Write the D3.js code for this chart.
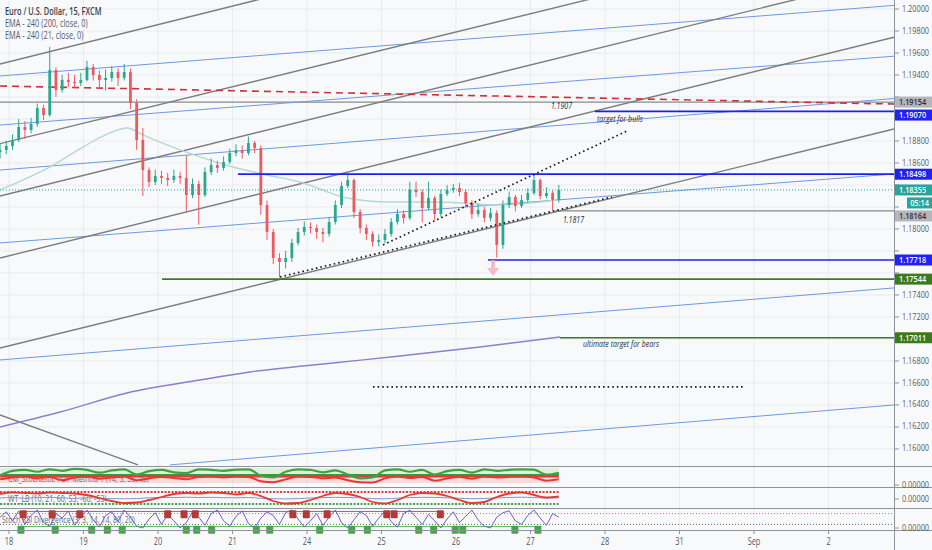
<!DOCTYPE html>
<html><head><meta charset="utf-8">
<script src="https://cdn.jsdelivr.net/npm/d3@7"></script>
<style>html,body{margin:0;padding:0;background:#f8f9fb;}svg{display:block;font-family:"Open Sans","Noto Sans",sans-serif;}</style>
</head><body><svg id="c" width="932" height="550"></svg>
<script>
// ---------------- DATA ----------------
// trading-day index 0..11 for the x-axis labels (weekends skipped)
const dayLabels = ["18","19","20","21","24","25","26","27","28","31","Sep","2"];
const priceTicks = [1.200,1.198,1.196,1.194,1.192,1.190,1.188,1.186,1.184,1.182,1.180,1.178,1.176,1.174,1.172,1.170,1.168,1.166,1.164,1.162,1.160];
// 2-hour candles, first bar at day index -0.12
const barStart = -0.12, barStep = 1/12;
const opens = [1.18700,1.18718,1.18755,1.18809,1.18927,1.18900,1.18955,1.19100,1.19036,1.19445,
1.19264,1.19355,1.19336,1.19327,1.19355,1.19473,1.19400,1.19355,1.19373,1.19427,
1.19373,1.19427,1.19145,1.18809,1.18536,1.18427,1.18482,1.18464,1.18445,1.18482,
1.18464,1.18309,1.18409,1.18309,1.18518,1.18582,1.18555,1.18609,1.18691,1.18718,
1.18691,1.18782,1.18736,1.18218,1.17973,1.17736,1.17700,1.17736,1.17873,1.17973,
1.18018,1.18009,1.17973,1.17955,1.18064,1.18218,1.18391,1.18445,1.18155,1.18009,
1.17955,1.17882,1.17900,1.17955,1.18064,1.18136,1.18100,1.18355,1.18336,1.18191,
1.18282,1.18136,1.18318,1.18355,1.18373,1.18336,1.18236,1.18136,1.18173,1.18100,
1.18145,1.17855,1.18218,1.18291,1.18209,1.18264,1.18327,1.18445,1.18300,1.18327,
1.18264];
const closes = [1.18718,1.18755,1.18809,1.18927,1.18900,1.18955,1.19100,1.19036,1.19445,1.19264,
1.19355,1.19336,1.19327,1.19355,1.19473,1.19400,1.19355,1.19373,1.19427,1.19373,
1.19427,1.19145,1.18809,1.18536,1.18427,1.18482,1.18464,1.18445,1.18482,1.18464,
1.18309,1.18409,1.18309,1.18518,1.18582,1.18555,1.18609,1.18691,1.18718,1.18691,
1.18782,1.18736,1.18218,1.17973,1.17736,1.17700,1.17736,1.17873,1.17973,1.18018,
1.18009,1.17973,1.17955,1.18064,1.18218,1.18391,1.18445,1.18155,1.18009,1.17955,
1.17882,1.17900,1.17955,1.18064,1.18136,1.18100,1.18355,1.18336,1.18191,1.18282,
1.18136,1.18318,1.18355,1.18373,1.18336,1.18236,1.18136,1.18173,1.18100,1.18145,
1.17855,1.18218,1.18291,1.18209,1.18264,1.18327,1.18445,1.18300,1.18327,1.18264,
1.18355];
const highs = [1.18780,1.18800,1.18860,1.19000,1.18980,1.19010,1.19140,1.19130,1.19655,1.19470,
1.19400,1.19420,1.19400,1.19420,1.19530,1.19500,1.19440,1.19450,1.19480,1.19460,
1.19500,1.19460,1.19180,1.18920,1.18560,1.18540,1.18530,1.18510,1.18540,1.18520,
1.18670,1.18460,1.18440,1.18560,1.18640,1.18620,1.18660,1.18730,1.18770,1.18760,
1.18840,1.18800,1.18760,1.18260,1.18000,1.17780,1.17800,1.17910,1.18010,1.18070,
1.18060,1.18040,1.18010,1.18110,1.18260,1.18430,1.18500,1.18460,1.18180,1.18040,
1.17980,1.17950,1.18000,1.18100,1.18180,1.18170,1.18430,1.18430,1.18360,1.18430,
1.18300,1.18360,1.18400,1.18410,1.18420,1.18360,1.18260,1.18230,1.18200,1.18190,
1.18170,1.18260,1.18340,1.18310,1.18310,1.18370,1.18500,1.18460,1.18380,1.18350,
1.18400];
const lows = [1.18640,1.18680,1.18720,1.18790,1.18820,1.18870,1.18930,1.18990,1.19020,1.19200,
1.19240,1.19290,1.19280,1.19300,1.19340,1.19350,1.19290,1.19260,1.19340,1.19300,
1.19350,1.19090,1.18720,1.18300,1.18380,1.18400,1.18410,1.18390,1.18420,1.18410,
1.18160,1.18280,1.18040,1.18290,1.18490,1.18510,1.18530,1.18590,1.18660,1.18640,
1.18670,1.18690,1.18130,1.17900,1.17680,1.17560,1.17640,1.17700,1.17850,1.17940,
1.17960,1.17910,1.17880,1.17930,1.18040,1.18190,1.18370,1.18100,1.17960,1.17900,
1.17840,1.17840,1.17870,1.17930,1.18040,1.18050,1.18080,1.18290,1.18060,1.18170,
1.18080,1.18110,1.18300,1.18330,1.18300,1.18200,1.18090,1.18110,1.18060,1.18070,
1.17740,1.17820,1.18190,1.18160,1.18190,1.18240,1.18310,1.18270,1.18280,1.18164,
1.18240];
// EMA 21 (240) and EMA 200 (240)
const emaFastT = [-0.1208,0.5503,0.9933,1.3557,1.5839,1.7987,2.1208,2.5638,3.0067,3.4631,3.906,4.5369,5.1141,5.651,6.094,6.5503,7.3557];
const emaFastV = [1.18355,1.18564,1.18745,1.18873,1.18918,1.18855,1.18764,1.18655,1.18564,1.18491,1.18427,1.18282,1.18245,1.18245,1.18236,1.18218,1.18264];
const emaSlowT = [-0.1208,0.6846,1.584,2.564,3.235,4.349,5.248,6.322,7.396];
const emaSlowV = [1.16200,1.16336,1.16509,1.16627,1.16700,1.16782,1.16845,1.16927,1.17018];
// drawings: [t1, price1, t2, price2]
const grayTrend = [[-0.1208,1.19500,11.879,1.21527],[-0.1208,1.18776,11.879,1.20767],[-0.1208,1.18300,11.879,1.20307],
  [-0.1208,1.17736,11.879,1.19744],[-0.1208,1.16918,11.879,1.18909],[-0.1208,1.16309,1.7315,1.15855]];
const blueTrend = [[-0.1208,1.19391,11.879,1.20033],[-0.1208,1.18945,11.879,1.19571],[-0.1208,1.18536,11.879,1.19186],
  [-0.1208,1.17873,11.879,1.18500],[-0.1208,1.16809,11.879,1.17464],[2.161,1.15855,11.879,1.16400]];
const redDashed = [-0.1208,1.19300,11.879,1.19136];
const dottedTrend = [[3.638,1.17564,8.094,1.18291],[5.020,1.17855,8.295,1.18891],[4.886,1.16564,9.879,1.16564]];
const grayLevels = [1.19154,1.18164], grayLevelStart = [-0.1208,7.33];
const blueLevels = [1.19070,1.18498,1.17718], blueLevelStart = [7.866,3.074,6.43];
const greenLevels = [1.17544,1.17011], greenLevelStart = [2.054,7.396];
const annoText = ["1.1907","target for bulls","1.1817","ultimate target for bears"];
const annoT = [7.275,7.893,7.436,7.705];
const annoP = [1.19091,1.18973,1.18055,1.16927];
const arrowT = 6.497, arrowP = 1.17718;
const countdown = "05:14";
const legendLines = ["Euro / U.S. Dollar, 15, FXCM","EMA - 240 (200, close, 0)","EMA - 240 (21, close, 0)"];
// indicator panes (4-hour samples)
const paneNames = ["CM_Stochastic POP Method 1 (14, 3, 55, 45)","WT_LB (10, 21, 60, 53, -60, -53)","Stoch RSI Divergence (3, 3, 14, 14, 80, 20)"];
const stochK = [55,80,85,75,88,80,90,85,70,82,88,60,78,85,72,68,88,85,80,86,88,55,45,75,88,85,72,82,60,40,45,82,88,75,85,60,78,85,70,88,80,85,88,86,60,70];
const stochD = [35,45,50,40,48,30,45,50,38,45,50,30,40,48,42,35,48,50,45,50,48,25,20,35,50,48,40,45,30,20,18,40,50,42,48,28,40,48,38,50,45,48,50,45,28,35];
const wt1 = [40,55,50,45,55,50,45,30,0,-30,-50,-45,-20,10,40,50,45,55,50,35,50,20,-30,-55,-50,-20,20,50,40,10,-40,-55,-20,30,50,45,20,-20,-50,-40,10,45,55,30,5,15];
const wt2 = [0,5,-3,4,6,2,-4,3,-2,-6,-8,-5,2,6,4,8,5,7,3,2,5,-3,-7,-9,-6,0,4,7,5,1,-6,-8,-2,4,7,6,2,-3,-7,-5,1,5,8,4,0,2];
const stochRsi = [60,90,40,95,20,70,100,30,10,80,55,95,15,60,100,45,5,70,90,35,100,60,10,0,50,85,20,75,40,0,
30,90,60,15,80,100,40,10,65,95,25,0,55,90,70,20,85,100,50,5,40,80,15,60,100,30,0,45,90,70,
10,55,95,35,5,80,100,60,20,75,40,0,50,90,30,65,100,45,10,0,60,85,95,40,20,70,100,55,15,80,60];
const highMarks = [0.19,0.58,0.95,2.13,2.35,2.50,3.81,3.99,4.27,5.07,5.17,5.79];
const lowMarks = [0.16,0.62,1.11,1.32,1.52,2.38,2.52,2.72,3.32,3.50,4.17,4.60,4.81,5.50,5.70,5.99,6.09,6.79,7.10];

// ---------------- DRAW ----------------
const svg = d3.select("#c");
const x = d3.scaleLinear().domain([-0.1208, 11.879]).range([0, 894]);
const y = d3.scaleLinear().domain([1.20082, 1.15845]).range([0, 466]);
const fmt = d3.format(".5f");
const SX = 0.74;
function txt(g, px, py, s, o = {}) {
  return g.append("text").attr("transform", `translate(${px},${py}) scale(${o.sx || SX},1)`)
    .attr("font-size", o.size || 10).attr("fill", o.fill || "#4a4e59")
    .attr("text-anchor", o.anchor || "start").attr("font-style", o.italic ? "italic" : null)
    .attr("font-weight", o.weight || null).attr("dominant-baseline", o.mid ? "middle" : null).text(s);
}
svg.append("rect").attr("width", 932).attr("height", 550).attr("fill", "#f8f9fb");
const defs = svg.append("defs");
defs.append("clipPath").attr("id", "mc").append("rect").attr("width", 894).attr("height", 466);

// grid
const grid = svg.append("g").attr("stroke", "#e8ebf0").attr("stroke-width", 1);
dayLabels.forEach((d, i) => grid.append("line").attr("x1", x(i)).attr("x2", x(i)).attr("y1", 0).attr("y2", 530));
priceTicks.forEach(p => grid.append("line").attr("x1", 0).attr("x2", 894).attr("y1", y(p)).attr("y2", y(p)));

const m = svg.append("g").attr("clip-path", "url(#mc)");
const seg = (g, d) => g.append("line").attr("x1", x(d[0])).attr("y1", y(d[1])).attr("x2", x(d[2])).attr("y2", y(d[3]));
const tEnd = 11.879;
grayLevels.forEach((p, i) => seg(m, [grayLevelStart[i], p, tEnd, p]).attr("stroke", "#8a8a8a").attr("stroke-width", 1.3));
blueTrend.forEach(d => seg(m, d).attr("stroke", "#6b9be0").attr("stroke-width", 1));
grayTrend.forEach(d => seg(m, d).attr("stroke", "#7d7d7d").attr("stroke-width", 1.4));
seg(m, redDashed).attr("stroke", "#c8343a").attr("stroke-width", 1.6).attr("stroke-dasharray", "7,5");

const line = d3.line().curve(d3.curveMonotoneX);
m.append("path").attr("d", line(emaFastT.map((t, i) => [x(t), y(emaFastV[i])]))).attr("fill", "none").attr("stroke", "#b5d9cd").attr("stroke-width", 1.4);
m.append("path").attr("d", line(emaSlowT.map((t, i) => [x(t), y(emaSlowV[i])]))).attr("fill", "none").attr("stroke", "#8d7fcc").attr("stroke-width", 1.4);

// candles
const cg = m.append("g");
closes.forEach((c, i) => {
  const t = barStart + i * barStep, o = opens[i], up = c >= o, col = up ? "#2aa88f" : "#ec5a5f";
  const cx = x(t);
  cg.append("line").attr("x1", cx).attr("x2", cx).attr("y1", y(highs[i])).attr("y2", y(lows[i])).attr("stroke", col).attr("stroke-width", 1);
  const y0 = y(Math.max(o, c)), y1 = y(Math.min(o, c));
  cg.append("rect").attr("x", cx - 1.4).attr("width", 2.8).attr("y", y0).attr("height", Math.max(1, y1 - y0)).attr("fill", col);
});
const last = closes[closes.length - 1];
seg(m, [-0.1208, last, tEnd, last]).attr("stroke", "#26a69a").attr("stroke-width", 1).attr("stroke-dasharray", "1,2");

blueLevels.forEach((p, i) => seg(m, [blueLevelStart[i], p, tEnd, p]).attr("stroke", "#1f1ff0").attr("stroke-width", 1.7));
greenLevels.forEach((p, i) => seg(m, [greenLevelStart[i], p, tEnd, p]).attr("stroke", "#3d7a1f").attr("stroke-width", 1.7));
dottedTrend.forEach(d => seg(m, d).attr("stroke", "#1b1b1b").attr("stroke-width", 1.7).attr("stroke-dasharray", "1.6,3"));

// pink arrow
const ax = x(arrowT), ay = y(arrowP);
m.append("path").attr("d", `M${ax - 2},${ay} L${ax + 2},${ay} L${ax + 2},${ay + 8} L${ax + 6},${ay + 8} L${ax},${ay + 16} L${ax - 6},${ay + 8} L${ax - 2},${ay + 8} Z`)
  .attr("fill", "#f2a5b5").attr("opacity", 0.75);

annoText.forEach((s, i) => txt(m, x(annoT[i]), y(annoP[i]), s, { italic: true, size: 9, fill: "#2a2e39", sx: 0.78 }));

// legend
legendLines.forEach((s, i) => txt(svg, 5, 15 + i * 12, s, { size: 10, fill: i ? "#555a66" : "#3a3e49", weight: i ? null : 600 }));

// ---------------- PANES ----------------
const tInd = i => barStart + i * 2 * barStep;
const p1 = d3.scaleLinear().domain([0, 100]).range([486, 467]);
const p2 = d3.scaleLinear().domain([-100, 100]).range([508, 488]);
const p3 = d3.scaleLinear().domain([0, 100]).range([528, 510]);
const tLast = barStart + (closes.length - 1) * barStep;
const lin = d3.line().curve(d3.curveMonotoneX);
// pane 1
svg.append("rect").attr("x", x(barStart)).attr("width", x(tLast) - x(barStart)).attr("y", p1(95)).attr("height", p1(58) - p1(95)).attr("fill", "#d6efd4").attr("opacity", 0.8);
svg.append("rect").attr("x", x(barStart)).attr("width", x(tLast) - x(barStart)).attr("y", p1(58)).attr("height", p1(16) - p1(58)).attr("fill", "#f9d3d3").attr("opacity", 0.8);
txt(svg, 8, 482, paneNames[0], { size: 9.5, fill: "#6a6e79" });
svg.append("line").attr("x1", x(barStart)).attr("x2", x(tLast)).attr("y1", p1(58)).attr("y2", p1(58)).attr("stroke", "#3a9a3a").attr("stroke-width", 2.2);
svg.append("line").attr("x1", x(barStart)).attr("x2", x(tLast)).attr("y1", p1(50)).attr("y2", p1(50)).attr("stroke", "#e53935").attr("stroke-width", 1.8);
svg.append("path").attr("d", lin(stochD.map((v, i) => [x(tInd(i)), p1(v)]))).attr("fill", "none").attr("stroke", "#e53935").attr("stroke-width", 2);
svg.append("path").attr("d", lin(stochK.map((v, i) => [x(tInd(i)), p1(v)]))).attr("fill", "none").attr("stroke", "#43a047").attr("stroke-width", 2.2);
// pane 2
txt(svg, 8, 502, paneNames[1], { size: 9.5, fill: "#6a6e79" });
svg.append("line").attr("x1", x(barStart)).attr("x2", x(tLast)).attr("y1", p2(60)).attr("y2", p2(60)).attr("stroke", "#e53935").attr("stroke-width", 2).attr("stroke-dasharray", "2,1.5");
svg.append("line").attr("x1", x(barStart)).attr("x2", x(tLast)).attr("y1", p2(-60)).attr("y2", p2(-60)).attr("stroke", "#43a047").attr("stroke-width", 2).attr("stroke-dasharray", "2,1.5");
svg.append("path").attr("d", lin(wt2.map((v, i) => [x(tInd(i)), p2(v)]))).attr("fill", "none").attr("stroke", "#8a93c8").attr("stroke-width", 1);
svg.append("path").attr("d", lin(wt1.map((v, i) => [x(tInd(i)), p2(v)]))).attr("fill", "none").attr("stroke", "#e53935").attr("stroke-width", 1.8);
// pane 3
svg.append("line").attr("x1", 0).attr("x2", 894).attr("y1", p3(80)).attr("y2", p3(80)).attr("stroke", "#e57373").attr("stroke-width", 1).attr("stroke-dasharray", "1,2");
svg.append("line").attr("x1", 0).attr("x2", 894).attr("y1", p3(20)).attr("y2", p3(20)).attr("stroke", "#666").attr("stroke-width", 1).attr("stroke-dasharray", "1,2");
txt(svg, 2, 523, paneNames[2], { size: 9.5, fill: "#6a6e79" });
svg.append("path").attr("d", d3.line()(highMarks.map(t => [x(t), p3(92)]))).attr("fill", "none").attr("stroke", "#a33").attr("stroke-width", 0.8);
svg.append("path").attr("d", d3.line()(lowMarks.map(t => [x(t), p3(8)]))).attr("fill", "none").attr("stroke", "#3a3").attr("stroke-width", 0.8);
svg.append("path").attr("d", d3.line()(stochRsi.map((v, i) => [x(barStart + i * barStep), p3(v)]))).attr("fill", "none").attr("stroke", "#6f5fc9").attr("stroke-width", 1);
highMarks.forEach(t => svg.append("rect").attr("x", x(t) - 3.5).attr("y", p3(98)).attr("width", 7).attr("height", 8).attr("fill", "#b23a3a").attr("rx", 1));
lowMarks.forEach(t => svg.append("rect").attr("x", x(t) - 3.5).attr("y", p3(12)).attr("width", 7).attr("height", 8).attr("fill", "#46a546").attr("rx", 1));

// ---------------- AXES ----------------
const ax2 = svg.append("g").attr("stroke", "#8e929b").attr("stroke-width", 1);
[466, 487, 508].forEach(v => ax2.append("line").attr("x1", 0).attr("x2", 932).attr("y1", v + 0.5).attr("y2", v + 0.5));
ax2.append("line").attr("x1", 0).attr("x2", 932).attr("y1", 530.5).attr("y2", 530.5);
ax2.append("line").attr("x1", 894.5).attr("x2", 894.5).attr("y1", 0).attr("y2", 550);
dayLabels.forEach((d, i) => {
  ax2.append("line").attr("x1", x(i)).attr("x2", x(i)).attr("y1", 531).attr("y2", 534);
  txt(svg, x(i), 545, d, { anchor: "middle", size: 10, fill: "#555a66" });
});

// price-scale labels, stacked so they don't collide (as the platform does)
const BH = 11;
const labels = [];
grayLevels.forEach(p => labels.push({ p, bg: "#b4b6bc", fg: "#2a2e39", s: fmt(p) }));
blueLevels.forEach(p => labels.push({ p, bg: "#2121f5", fg: "#ffffff", s: fmt(p) }));
greenLevels.forEach(p => labels.push({ p, bg: "#3d7a1f", fg: "#ffffff", s: fmt(p) }));
labels.push({ p: last, bg: "#26a69a", fg: "#ffffff", s: fmt(last), cd: true });
labels.forEach(l => l.y = y(l.p));
labels.sort((a, b) => a.y - b.y);
const placed = [];
let bottom = -100;
labels.forEach(l => {
  let yy = Math.max(l.y, bottom + BH / 2 + 2);
  placed.push({ y: yy, bg: l.bg, fg: l.fg, s: l.s, w: 37, x0: 895 });
  bottom = yy + BH / 2;
  if (l.cd) {
    const cy = bottom + BH / 2 + 2;
    placed.push({ y: cy, bg: l.bg, fg: l.fg, s: countdown, w: 25, x0: 907, center: true });
    bottom = cy + BH / 2;
  }
});
priceTicks.forEach(p => {
  ax2.append("line").attr("x1", 895).attr("x2", 899).attr("y1", y(p)).attr("y2", y(p));
  if (placed.every(b => Math.abs(b.y - y(p)) > BH / 2 + 4)) txt(svg, 902, y(p), fmt(p), { size: 9.5, fill: "#555a66", mid: true, sx: 0.77 });
});
[p1(5), p2(0) + 1, p3(0)].forEach(v => {
  ax2.append("line").attr("x1", 895).attr("x2", 899).attr("y1", v).attr("y2", v);
  txt(svg, 902, v, fmt(0), { size: 9.5, fill: "#555a66", mid: true, sx: 0.77 });
});
placed.forEach(b => {
  svg.append("rect").attr("x", b.x0).attr("y", b.y - BH / 2).attr("width", b.w).attr("height", BH).attr("fill", b.bg);
  if (b.center) txt(svg, b.x0 + b.w / 2, b.y + 0.5, b.s, { size: 9.5, fill: b.fg, mid: true, anchor: "middle", weight: 600, sx: 0.77 });
  else txt(svg, 899, b.y + 0.5, b.s, { size: 9.5, fill: b.fg, mid: true, weight: 600, sx: 0.77 });
});
</script></body></html>
